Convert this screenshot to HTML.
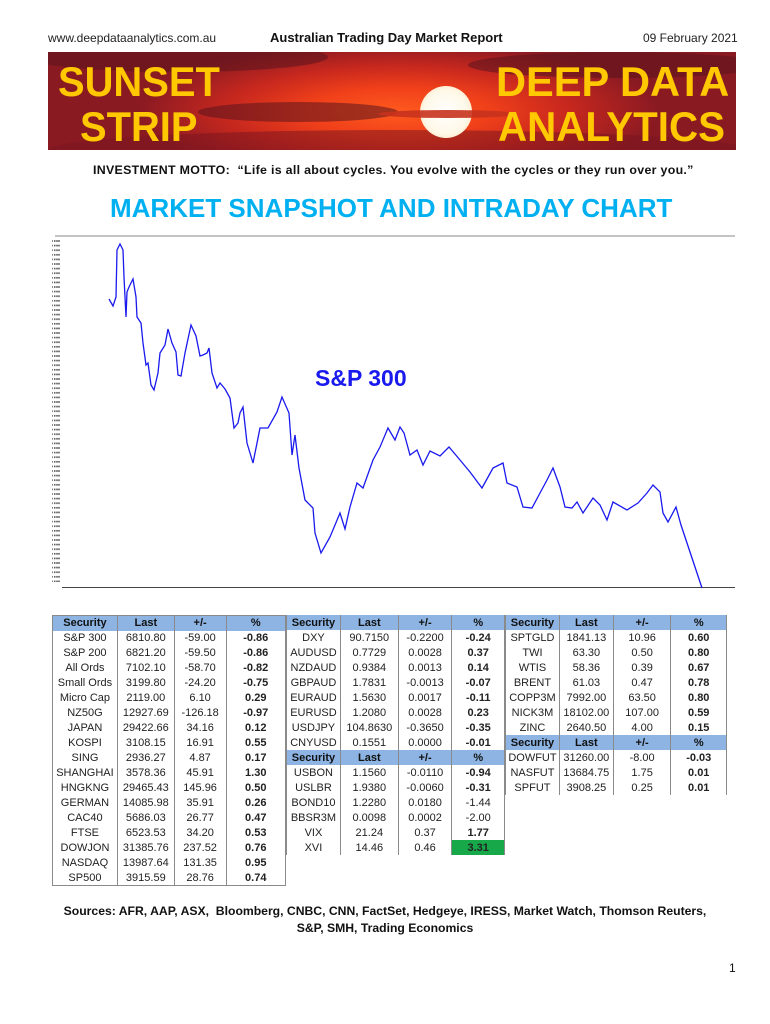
<!DOCTYPE html>
<html><head><meta charset="utf-8">
<style>
*{margin:0;padding:0;box-sizing:border-box}
body{width:770px;height:1024px;background:#fff;position:relative;font-family:"Liberation Sans",sans-serif;overflow:hidden}
.abs{position:absolute;white-space:nowrap}
.banner{position:absolute;left:48px;top:52px;width:688px;height:98px;overflow:hidden;
background:radial-gradient(ellipse 260px 70px at 350px 60px,#ff5a1e 0%,#f0401a 35%,#c8281e 65%,#8a1a22 100%);}
.sun{position:absolute;left:372px;top:34px;width:52px;height:52px;border-radius:50%;background:radial-gradient(circle,#fff 0%,#fff8e8 60%,#ffd0a0 100%)}
.cloud{position:absolute;background:rgba(90,20,30,0.55);border-radius:50%}
.bt{position:absolute;color:#ffc800;font-weight:bold;font-size:42px;line-height:42px;transform:scaleX(0.95);transform-origin:left top;white-space:nowrap}
table{position:absolute;border-collapse:collapse;font-size:11px;color:#222}
td{height:15px;padding:0;text-align:center;border-left:1px solid #8a8a8a;border-right:1px solid #8a8a8a;line-height:14px}
tr.h td{background:#8db4e2;font-weight:bold;color:#111}
td.b{font-weight:bold}
</style></head><body>
<div class="abs" style="left:48px;top:31px;font-size:12px;color:#222">www.deepdataanalytics.com.au</div>
<div class="abs" style="left:270px;top:30px;font-size:13px;font-weight:bold;color:#111">Australian Trading Day Market Report</div>
<div class="abs" style="left:643px;top:31px;font-size:12px;color:#222">09 February 2021</div>

<div class="banner">
<div class="cloud" style="left:-20px;top:-10px;width:300px;height:30px"></div>
<div class="cloud" style="left:150px;top:50px;width:200px;height:20px"></div>
<div class="cloud" style="left:420px;top:0px;width:300px;height:26px"></div>
<div class="cloud" style="left:0px;top:78px;width:700px;height:40px;background:rgba(120,20,30,0.5)"></div>
<div class="sun"></div>
<div class="cloud" style="left:330px;top:58px;width:140px;height:8px;background:rgba(200,50,30,0.9)"></div>
<div class="bt" style="left:10px;top:9px">SUNSET</div>
<div class="bt" style="left:32px;top:54px">STRIP</div>
<div class="bt" style="left:448px;top:9px;transform:scaleX(0.99)">DEEP DATA</div>
<div class="bt" style="left:450px;top:54px;transform:scaleX(0.96)">ANALYTICS</div>
</div>

<div class="abs" style="left:93px;top:163px;font-size:12.4px;font-weight:bold;color:#111;letter-spacing:0.3px">INVESTMENT MOTTO: &nbsp;“Life is all about cycles. You evolve with the cycles or they run over you.”</div>
<div class="abs" style="left:110px;top:193px;font-size:26px;color:#00b0f0;font-weight:bold">MARKET SNAPSHOT AND INTRADAY CHART</div>

<svg class="abs" style="left:0;top:0" width="770" height="600">
<defs><pattern id="tk" width="8" height="4.6" patternUnits="userSpaceOnUse"><rect x="0" y="1" width="5" height="1.6" fill="#777"/><rect x="6" y="1" width="1.5" height="1.6" fill="#555"/></pattern></defs>
<line x1="55" y1="236" x2="735" y2="236" stroke="#888" stroke-width="1"/>
<line x1="62" y1="587.5" x2="735" y2="587.5" stroke="#444" stroke-width="1"/>
<rect x="52" y="240" width="8" height="342" fill="url(#tk)"/>
<polyline fill="none" stroke="#1a1aee" stroke-width="1.3" points="109,299 113,306 116,297 117,250 120,244 123,250 124,277 126,317 127,292 129,287 133,279 136,297 137,317 141,323 143,343 146,365 148,363 151,385 154,390 158,373 160,353 165,345 168,329 172,343 176,352 178,375 181,376 185,353 191,325 196,336 200,356 203,355 207,353 209,348 212,373 217,388 220,383 225,389 230,398 234,428 238,423 240,413 243,407 247,443 253,463 260,428 268,428 277,412 282,397 289,413 292,455 295,435 299,468 305,500 313,508 315,533 321,553 330,537 340,513 345,529 350,507 357,483 363,488 373,460 380,447 388,428 395,440 400,427 404,433 410,455 417,450 423,465 430,451 440,456 449,447 460,460 470,472 482,488 493,468 503,463 507,483 517,487 523,507 532,508 540,493 547,480 553,468 560,487 565,507 572,508 577,502 583,513 593,498 600,505 607,520 613,502 627,510 638,503 647,493 653,485 660,492 663,513 668,522 676,507 681,525 702,588"/>
<text x="315" y="386" font-family="Liberation Sans" font-weight="bold" font-size="23" fill="#1a1aee">S&amp;P 300</text>
</svg>

<table style="left:52px;top:615px;width:234px;border:1px solid #8a8a8a">
<colgroup><col style="width:65px"><col style="width:57px"><col style="width:52px"><col style="width:60px"></colgroup>
<tr class="h"><td>Security</td><td>Last</td><td>+/-</td><td>%</td></tr>
<tr><td>S&amp;P 300</td><td>6810.80</td><td>-59.00</td><td class="b">-0.86</td></tr>
<tr><td>S&amp;P 200</td><td>6821.20</td><td>-59.50</td><td class="b">-0.86</td></tr>
<tr><td>All Ords</td><td>7102.10</td><td>-58.70</td><td class="b">-0.82</td></tr>
<tr><td>Small Ords</td><td>3199.80</td><td>-24.20</td><td class="b">-0.75</td></tr>
<tr><td>Micro Cap</td><td>2119.00</td><td>6.10</td><td class="b">0.29</td></tr>
<tr><td>NZ50G</td><td>12927.69</td><td>-126.18</td><td class="b">-0.97</td></tr>
<tr><td>JAPAN</td><td>29422.66</td><td>34.16</td><td class="b">0.12</td></tr>
<tr><td>KOSPI</td><td>3108.15</td><td>16.91</td><td class="b">0.55</td></tr>
<tr><td>SING</td><td>2936.27</td><td>4.87</td><td class="b">0.17</td></tr>
<tr><td>SHANGHAI</td><td>3578.36</td><td>45.91</td><td class="b">1.30</td></tr>
<tr><td>HNGKNG</td><td>29465.43</td><td>145.96</td><td class="b">0.50</td></tr>
<tr><td>GERMAN</td><td>14085.98</td><td>35.91</td><td class="b">0.26</td></tr>
<tr><td>CAC40</td><td>5686.03</td><td>26.77</td><td class="b">0.47</td></tr>
<tr><td>FTSE</td><td>6523.53</td><td>34.20</td><td class="b">0.53</td></tr>
<tr><td>DOWJON</td><td>31385.76</td><td>237.52</td><td class="b">0.76</td></tr>
<tr><td>NASDAQ</td><td>13987.64</td><td>131.35</td><td class="b">0.95</td></tr>
<tr><td>SP500</td><td>3915.59</td><td>28.76</td><td class="b">0.74</td></tr>
</table>

<table style="left:286px;top:615px;width:219px">
<colgroup><col style="width:54px"><col style="width:58px"><col style="width:54px"><col style="width:53px"></colgroup>
<tr class="h"><td>Security</td><td>Last</td><td>+/-</td><td>%</td></tr>
<tr><td>DXY</td><td>90.7150</td><td>-0.2200</td><td class="b">-0.24</td></tr>
<tr><td>AUDUSD</td><td>0.7729</td><td>0.0028</td><td class="b">0.37</td></tr>
<tr><td>NZDAUD</td><td>0.9384</td><td>0.0013</td><td class="b">0.14</td></tr>
<tr><td>GBPAUD</td><td>1.7831</td><td>-0.0013</td><td class="b">-0.07</td></tr>
<tr><td>EURAUD</td><td>1.5630</td><td>0.0017</td><td class="b">-0.11</td></tr>
<tr><td>EURUSD</td><td>1.2080</td><td>0.0028</td><td class="b">0.23</td></tr>
<tr><td>USDJPY</td><td>104.8630</td><td>-0.3650</td><td class="b">-0.35</td></tr>
<tr><td>CNYUSD</td><td>0.1551</td><td>0.0000</td><td class="b">-0.01</td></tr>
<tr class="h"><td>Security</td><td>Last</td><td>+/-</td><td>%</td></tr>
<tr><td>USBON</td><td>1.1560</td><td>-0.0110</td><td class="b">-0.94</td></tr>
<tr><td>USLBR</td><td>1.9380</td><td>-0.0060</td><td class="b">-0.31</td></tr>
<tr><td>BOND10</td><td>1.2280</td><td>0.0180</td><td>-1.44</td></tr>
<tr><td>BBSR3M</td><td>0.0098</td><td>0.0002</td><td>-2.00</td></tr>
<tr><td>VIX</td><td>21.24</td><td>0.37</td><td class="b">1.77</td></tr>
<tr><td>XVI</td><td>14.46</td><td>0.46</td><td class="b" style="background:#17a84a">3.31</td></tr>
</table>

<table style="left:505px;top:615px;width:222px;border-right:1px solid #8a8a8a">
<colgroup><col style="width:54px"><col style="width:54px"><col style="width:58px"><col style="width:56px"></colgroup>
<tr class="h"><td>Security</td><td>Last</td><td>+/-</td><td>%</td></tr>
<tr><td>SPTGLD</td><td>1841.13</td><td>10.96</td><td class="b">0.60</td></tr>
<tr><td>TWI</td><td>63.30</td><td>0.50</td><td class="b">0.80</td></tr>
<tr><td>WTIS</td><td>58.36</td><td>0.39</td><td class="b">0.67</td></tr>
<tr><td>BRENT</td><td>61.03</td><td>0.47</td><td class="b">0.78</td></tr>
<tr><td>COPP3M</td><td>7992.00</td><td>63.50</td><td class="b">0.80</td></tr>
<tr><td>NICK3M</td><td>18102.00</td><td>107.00</td><td class="b">0.59</td></tr>
<tr><td>ZINC</td><td>2640.50</td><td>4.00</td><td class="b">0.15</td></tr>
<tr class="h"><td>Security</td><td>Last</td><td>+/-</td><td>%</td></tr>
<tr><td>DOWFUT</td><td>31260.00</td><td>-8.00</td><td class="b">-0.03</td></tr>
<tr><td>NASFUT</td><td>13684.75</td><td>1.75</td><td class="b">0.01</td></tr>
<tr><td>SPFUT</td><td>3908.25</td><td>0.25</td><td class="b">0.01</td></tr>
</table>

<div class="abs" style="left:0;width:770px;text-align:center;top:903px;font-size:12.2px;font-weight:bold;color:#111;line-height:17px">Sources: AFR, AAP, ASX, &nbsp;Bloomberg, CNBC, CNN, FactSet, Hedgeye, IRESS, Market Watch, Thomson Reuters,<br>S&amp;P, SMH, Trading Economics</div>
<div class="abs" style="left:729px;top:961px;font-size:12px;color:#111">1</div>
</body></html>
